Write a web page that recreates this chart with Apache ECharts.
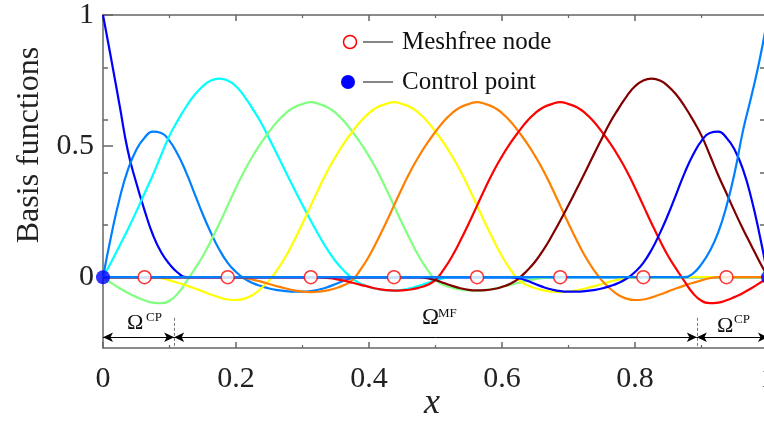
<!DOCTYPE html>
<html>
<head>
<meta charset="utf-8">
<script src="https://cdn.jsdelivr.net/npm/echarts@6/dist/echarts.min.js"></script>
<style>html,body{margin:0;padding:0;background:#fff;}#c{width:764px;height:423px;}</style>
</head>
<body>
<div id="c"></div>
<script>
// x grid of sampled points
const xs = [0,0.0125,0.025,0.0375,0.05,0.0625,0.075,0.0875,0.1,0.1125,0.125,0.1375,0.15,0.1625,0.175,0.1875,0.2,0.2125,0.225,0.2375,
  0.25,0.2625,0.275,0.2875,0.3,0.3125,0.325,0.3375,0.35,0.3625,0.375,0.3875,0.4,0.4125,0.425,0.4375,0.45,0.4625,0.475,0.4875,
  0.5,0.5125,0.525,0.5375,0.55,0.5625,0.575,0.5875,0.6,0.6125,0.625,0.6375,0.65,0.6625,0.675,0.6875,0.7,0.7125,0.725,0.7375,
  0.75,0.7625,0.775,0.7875,0.8,0.8125,0.825,0.8375,0.85,0.8625,0.875,0.8875,0.9,0.9125,0.925,0.9375,0.95,0.9625,0.975,0.9875,1];
// basis functions
const f1 = [1,0.83,0.655,0.48,0.36,0.255,0.162,0.095,0.05,0.017,0,
  0,0,0,0,0,0,0,0,0,0,0,0,0,0,0,0,0,0,0,0,0,0,0,0,0,0,0,0,0,0,0,0,0,0,0,0,0,0,0,0,0,0,0,0,0,0,0,0,0,0,0,0,0,0,0,0,0,0,0,0,0,0,0,0,0,0,0,0,0,0];
const f2 = [0,0.16,0.30,0.41,0.485,0.532,0.555,0.55,0.52,0.468,0.40,0.32,0.24,0.168,0.105,0.055,0.02,-0.005,-0.022,-0.034,
  -0.043,-0.049,-0.053,-0.055,-0.055,-0.053,-0.047,-0.038,-0.026,-0.013,-0.004,0,
  0,0,0,0,0,0,0,0,0,0,0,0,0,0,0,0,0,0,0,0,0,0,0,0,0,0,0,0,0,0,0,0,0,0,0,0,0,0,0,0,0,0,0,0,0,0,0,0,0];
const f3 = [0,0.058,0.12,0.183,0.25,0.32,0.39,0.466,0.54,0.598,0.65,0.695,0.728,0.75,0.757,0.75,0.728,0.69,0.642,0.59,
  0.528,0.465,0.40,0.337,0.275,0.215,0.158,0.105,0.06,0.025,-0.005,-0.025,-0.037,-0.045,-0.049,-0.05,-0.048,-0.042,-0.033,-0.022,
  -0.011,-0.004,0,
  0,0,0,0,0,0,0,0,0,0,0,0,0,0,0,0,0,0,0,0,0,0,0,0,0,0,0,0,0,0,0,0,0,0,0,0,0,0];
const f4 = [0,-0.022,-0.042,-0.06,-0.075,-0.088,-0.097,-0.099,-0.09,-0.062,-0.018,0.03,0.08,0.14,0.205,0.273,0.341,0.405,0.461,0.511,
  0.555,0.595,0.626,0.648,0.66,0.668,0.66,0.648,0.626,0.595,0.555,0.511,0.461,0.405,0.341,0.273,0.205,0.14,0.08,0.03,
  -0.01,-0.03,-0.04,-0.047,-0.05,-0.051,-0.049,-0.044,-0.037,-0.029,-0.021,-0.013,-0.007,-0.003,0,
  0,0,0,0,0,0,0,0,0,0,0,0,0,0,0,0,0,0,0,0,0,0,0,0,0,0];
const f5 = [0,0,0,0,0,0,0,-0.004,-0.012,-0.021,-0.031,-0.042,-0.054,-0.066,-0.077,-0.085,-0.087,-0.082,-0.068,-0.043,
  -0.012,0.03,0.08,0.14,0.205,0.273,0.341,0.405,0.461,0.511,0.555,0.595,0.626,0.648,0.66,0.668,0.66,0.648,0.626,0.595,
  0.555,0.511,0.461,0.405,0.341,0.273,0.205,0.14,0.08,0.03,-0.01,-0.03,-0.042,-0.05,-0.055,-0.057,-0.055,-0.05,-0.043,-0.035,
  -0.026,-0.017,-0.009,-0.003,0,0,0,0,0,0,0,0,0,0,0,0,0,0,0,0,0];
const f6 = [0,0,0,0,0,0,0,0,0,0,0,0,0,0,0,0,0,-0.003,-0.009,-0.017,
  -0.026,-0.035,-0.043,-0.05,-0.055,-0.057,-0.055,-0.05,-0.042,-0.03,-0.01,0.03,0.08,0.14,0.205,0.273,0.341,0.405,0.461,0.511,
  0.555,0.595,0.626,0.648,0.66,0.668,0.66,0.648,0.626,0.595,0.555,0.511,0.461,0.405,0.341,0.273,0.205,0.14,0.08,0.03,
  -0.012,-0.043,-0.068,-0.082,-0.087,-0.085,-0.077,-0.066,-0.054,-0.042,-0.031,-0.021,-0.012,-0.004,0,0,0,0,0,0,0];
const f7 = [0,0,0,0,0,0,0,0,0,0,0,0,0,0,0,0,0,0,0,0,0,0,0,0,0,0,0,-0.003,-0.007,-0.013,
  -0.021,-0.029,-0.037,-0.044,-0.049,-0.051,-0.05,-0.047,-0.04,-0.03,-0.01,0.03,0.08,0.14,0.205,0.273,0.341,0.405,0.461,0.511,
  0.555,0.595,0.626,0.648,0.66,0.668,0.66,0.648,0.626,0.595,0.555,0.511,0.461,0.405,0.341,0.273,0.205,0.14,0.08,0.03,
  -0.018,-0.062,-0.09,-0.099,-0.097,-0.088,-0.075,-0.06,-0.042,-0.022,0];
const f8 = [0,0,0,0,0,0,0,0,0,0,0,0,0,0,0,0,0,0,0,0,0,0,0,0,0,0,0,0,0,0,0,0,0,0,0,0,0,0,0,-0.004,
  -0.011,-0.022,-0.033,-0.042,-0.048,-0.05,-0.049,-0.045,-0.037,-0.025,-0.005,0.025,0.06,0.105,0.158,0.215,0.275,0.337,0.40,0.465,
  0.528,0.59,0.642,0.69,0.728,0.75,0.757,0.75,0.728,0.695,0.65,0.598,0.54,0.466,0.39,0.32,0.25,0.183,0.12,0.058,0];
const f9 = [0,0,0,0,0,0,0,0,0,0,0,0,0,0,0,0,0,0,0,0,0,0,0,0,0,0,0,0,0,0,0,0,0,0,0,0,0,0,0,0,
  0,0,0,0,0,0,0,0,0,0,-0.004,-0.013,-0.026,-0.038,-0.047,-0.053,-0.055,-0.055,-0.053,-0.049,
  -0.043,-0.034,-0.022,-0.005,0.02,0.055,0.105,0.168,0.24,0.32,0.40,0.468,0.52,0.55,0.555,0.532,0.485,0.41,0.30,0.16,0];
const f10 = [0,0,0,0,0,0,0,0,0,0,0,0,0,0,0,0,0,0,0,0,0,0,0,0,0,0,0,0,0,0,0,0,0,0,0,0,0,0,0,0,
  0,0,0,0,0,0,0,0,0,0,0,0,0,0,0,0,0,0,0,0,0,0,0,0,0,0,0,0,0,0,0,0.015,0.05,0.1,0.17,0.27,0.4,0.56,0.69,0.83,1];
const funcs = [f1,f2,f3,f4,f5,f6,f7,f8,f9,f10];
const colors = ['#0000ff','#0080ff','#00ffff','#80ff80','#ffff00','#ff8000','#ff0000','#800000','#0000ff','#0080ff'];
// nodes
const meshfreeX = [0.0625,0.1875,0.3125,0.4375,0.5625,0.6875,0.8125,0.9375];
const controlX = [0,1];
// sub-domain boundaries
const bounds = [0,0.107,0.893,1];
// tick labels
const yLabels = [0,0.5,1];
const yMinor = [0.2,0.4,0.6,0.8];

const serif = '"Liberation Serif","Times New Roman",serif';
const axisCol = '#666';
const yArrow = -0.229;

const series = funcs.map((f, k) => ({
  type: 'line',
  data: xs.map((x, i) => [x, f[i]]),
  showSymbol: false,
  smooth: 0.5,
  lineStyle: { color: colors[k], width: 2.2 },
  itemStyle: { color: colors[k] },
  silent: true,
  z: 2
}));

series.push({
  type: 'scatter',
  data: meshfreeX.map(x => [x, 0]),
  symbol: 'circle',
  symbolSize: 13,
  itemStyle: { color: '#ffffff', borderColor: '#ff0000', borderWidth: 1.5 },
  z: 5,
  silent: true,
  markLine: {
    silent: true,
    symbol: ['arrow', 'arrow'],
    symbolSize: [7, 10],
    label: { show: false },
    lineStyle: { color: '#000', width: 1, type: 'solid' },
    data: [
      [{ coord: [bounds[0], yArrow] }, { coord: [bounds[1], yArrow] }],
      [{ coord: [bounds[1], yArrow] }, { coord: [bounds[2], yArrow] }],
      [{ coord: [bounds[2], yArrow] }, { coord: [bounds[3], yArrow] }]
    ]
  }
});
series.push({
  type: 'scatter',
  data: controlX.map(x => [x, 0]),
  symbol: 'circle',
  symbolSize: 14,
  itemStyle: { color: '#0000ff' },
  z: 6,
  silent: true,
  markLine: {
    silent: true,
    symbol: ['none', 'none'],
    label: { show: false },
    lineStyle: { color: '#777', width: 1, type: [3, 2] },
    data: [
      [{ coord: [bounds[1], -0.155] }, { coord: [bounds[1], -0.27] }],
      [{ coord: [bounds[2], -0.155] }, { coord: [bounds[2], -0.27] }]
    ]
  }
});

const tickStyle = { color: axisCol, width: 1.5 };
const option = {
  animation: false,
  backgroundColor: '#fff',
  grid: { left: 103, top: 15, width: 665, height: 333, containLabel: false, outerBoundsMode: 'none' },
  xAxis: [
    {
      type: 'value', min: 0, max: 1, interval: 0.2, position: 'bottom',
      axisLine: { show: true, onZero: false, lineStyle: { color: axisCol, width: 1.5 } },
      axisTick: { show: true, inside: true, length: 6, lineStyle: tickStyle },
      minorTick: { show: true, splitNumber: 2, length: 3, lineStyle: { color: axisCol, width: 1.2 } },
      splitLine: { show: false },
      axisLabel: { fontFamily: serif, fontSize: 30, color: '#222', margin: 16, showMaxLabel: true }
    },
    {
      type: 'value', min: 0, max: 1, interval: 0.2, position: 'top',
      axisLine: { show: true, onZero: false, lineStyle: { color: axisCol, width: 1.5 } },
      axisTick: { show: true, inside: true, length: 6, lineStyle: tickStyle },
      minorTick: { show: true, splitNumber: 2, length: 3, lineStyle: { color: axisCol, width: 1.2 } },
      splitLine: { show: false },
      axisLabel: { show: false }
    }
  ],
  yAxis: [
    {
      type: 'value', min: -0.27, max: 1, position: 'left',
      axisLine: { show: true, onZero: false, lineStyle: { color: axisCol, width: 1.5 } },
      axisTick: { show: true, inside: true, length: 10, customValues: yLabels, lineStyle: tickStyle },
      splitLine: { show: false },
      axisLabel: { customValues: yLabels, fontFamily: serif, fontSize: 30, color: '#222', margin: 9,
        padding: [8, 0, 0, 0] }
    },
    {
      type: 'value', min: -0.27, max: 1, position: 'left',
      axisLine: { show: false },
      axisTick: { show: true, inside: true, length: 5, customValues: yMinor, lineStyle: tickStyle },
      splitLine: { show: false },
      axisLabel: { show: false }
    },
    {
      type: 'value', min: -0.27, max: 1, position: 'right',
      axisLine: { show: true, onZero: false, lineStyle: { color: axisCol, width: 1.5 } },
      axisTick: { show: true, inside: true, length: 8, customValues: yMinor, lineStyle: tickStyle },
      splitLine: { show: false },
      axisLabel: { show: false }
    }
  ],
  series: series,
  graphic: [
    { type: 'circle', shape: { cx: 350, cy: 42, r: 6.5 }, style: { fill: '#fff', stroke: '#ff0000', lineWidth: 1.5 }, z: 100 },
    { type: 'line', shape: { x1: 363, y1: 42, x2: 393, y2: 42 }, style: { stroke: '#333', lineWidth: 1.2 }, z: 100 },
    { type: 'text', x: 402, y: 42, style: { text: 'Meshfree node', font: '25px ' + serif, fill: '#111', verticalAlign: 'middle' }, z: 100 },
    { type: 'circle', shape: { cx: 348, cy: 82, r: 7 }, style: { fill: '#0000ff' }, z: 100 },
    { type: 'line', shape: { x1: 363, y1: 82, x2: 393, y2: 82 }, style: { stroke: '#333', lineWidth: 1.2 }, z: 100 },
    { type: 'text', x: 402, y: 82, style: { text: 'Control point', font: '25px ' + serif, fill: '#111', verticalAlign: 'middle' }, z: 100 },

    { type: 'text', x: 30, y: 145, rotation: Math.PI / 2, style: { text: 'Basis functions', font: '32px ' + serif, fill: '#222', align: 'center', verticalAlign: 'middle' }, z: 100 },
    { type: 'text', x: 432, y: 404, style: { text: 'x', font: 'italic 36px ' + serif, fill: '#222', align: 'center', verticalAlign: 'middle' }, z: 100 },

    { type: 'text', x: 127, y: 323, style: { text: 'Ω', font: '22px ' + serif, fill: '#111', verticalAlign: 'middle' }, z: 100 },
    { type: 'text', x: 146, y: 318, style: { text: 'CP', font: '13px ' + serif, fill: '#111', verticalAlign: 'middle' }, z: 100 },
    { type: 'text', x: 422, y: 318, style: { text: 'Ω', font: '23px ' + serif, fill: '#111', verticalAlign: 'middle' }, z: 100 },
    { type: 'text', x: 438, y: 314, style: { text: 'MF', font: '13px ' + serif, fill: '#111', verticalAlign: 'middle' }, z: 100 },
    { type: 'text', x: 717, y: 326, style: { text: 'Ω', font: '22px ' + serif, fill: '#111', verticalAlign: 'middle' }, z: 100 },
    { type: 'text', x: 734, y: 320, style: { text: 'CP', font: '13px ' + serif, fill: '#111', verticalAlign: 'middle' }, z: 100 }
  ]
};
const chart = echarts.init(document.getElementById('c'), null, { renderer: 'canvas' });
chart.setOption(option);
</script>
</body>
</html>
